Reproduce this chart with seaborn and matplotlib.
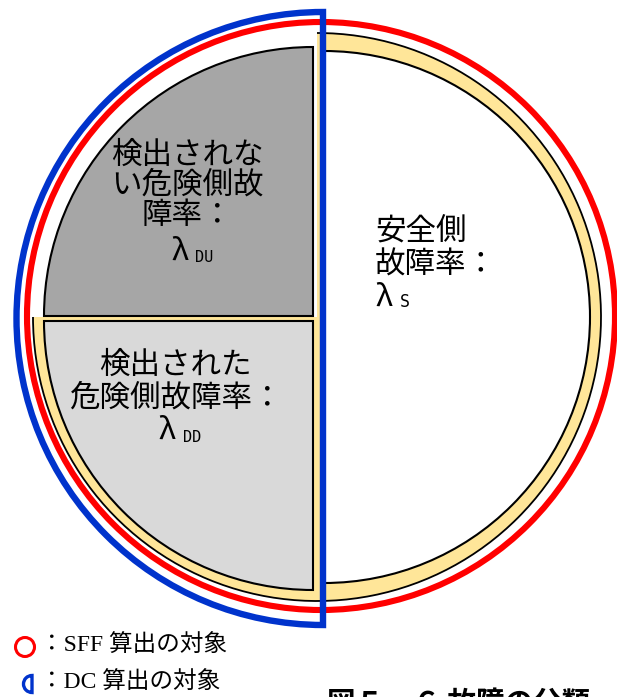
import numpy as np
import matplotlib
matplotlib.use("Agg")
import matplotlib.pyplot as plt
from matplotlib.patches import Wedge, Circle, Arc
import seaborn as sns

sns.set_style("white")
plt.rcParams['font.family'] = ['Noto Sans CJK JP', 'DejaVu Sans']
plt.rcParams['text.color'] = 'black'

# failure-rate breakdown (share of the whole circle)
sectors = ["safe", "du", "dd"]
shares = [0.50, 0.25, 0.25]
fills = ["white", "#a6a6a6", "#d9d9d9"]
# text of each sector: body lines + lambda subscript
sector_lines = [["安全側", "故障率："],
                ["検出されな", "い危険側故", "障率："],
                ["検出された", "危険側故障率："]]
subscripts = ["S", "DU", "DD"]
legend_texts = ["：SFF 算出の対象", "：DC 算出の対象"]
caption = "図５－６ 故障の分類"

H = 697
def py(y):
    return H - y

fig = plt.figure(figsize=(6.17, 6.97), dpi=100)
ax = fig.add_axes([0, 0, 1, 1])
ax.set_xlim(0, 617)
ax.set_ylim(0, H)
ax.axis('off')

# angles from shares, starting at the bottom, counter-clockwise
edges = np.concatenate([[0], np.cumsum(shares)]) * 360 - 90
# slightly exploded centres and radii of the sectors
centres = [(324, py(317)), (313, py(316)), (313, py(321))]
radii = [266, 269, 269]

# yellow band behind the safe half and the detected quarter
yc = (317, py(317))
ax.add_patch(Wedge(yc, 284, -180, 90, fc="#ffe699", ec="none", zorder=1))
ax.add_patch(Arc(yc, 568, 568, theta1=-180, theta2=90, color="black", lw=1.3, zorder=2))

for i, name in enumerate(sectors):
    ax.add_patch(Wedge(centres[i], radii[i], edges[i], edges[i + 1],
                       fc=fills[i], ec="black", lw=1.5, zorder=3))

# SFF ring and DC half ring
ax.add_patch(Circle((321, py(316)), 294, fill=False, ec="#ff0000", lw=4.4, zorder=4))
ax.add_patch(Wedge((323, py(318.5)), 306.5, 90, 270, fill=False, ec="#0033cc",
                   lw=4.6, joinstyle="miter", zorder=5))

fs = 22
# safe failure text
sx = 375
for t, yy in zip(sector_lines[0], [232, 265]):
    ax.text(sx, py(yy), t, ha="left", va="center", fontsize=fs, color="black", zorder=6)
ax.text(sx, py(297), "λ", ha="left", va="center", fontsize=fs, color="black", zorder=6)
ax.text(400, py(302), subscripts[0], ha="left", va="center", fontsize=12,
        family=["DejaVu Sans Mono"], color="black", zorder=6)

# undetected dangerous
for t, yy in zip(sector_lines[1], [155, 185, 215]):
    ax.text(187, py(yy), t, ha="center", va="center", fontsize=fs, color="black", zorder=6)
ax.text(180, py(251), "λ", ha="center", va="center", fontsize=fs, color="black", zorder=6)
ax.text(195, py(258), subscripts[1], ha="left", va="center", fontsize=11,
        family=["DejaVu Sans Mono"], color="black", zorder=6)

# detected dangerous
for t, yy in zip(sector_lines[2], [365, 398]):
    ax.text(175.5, py(yy), t, ha="center", va="center", fontsize=fs, color="black", zorder=6)
ax.text(167, py(430), "λ", ha="center", va="center", fontsize=fs, color="black", zorder=6)
ax.text(183, py(437), subscripts[2], ha="left", va="center", fontsize=11,
        family=["DejaVu Sans Mono"], color="black", zorder=6)

# legend
ax.add_patch(Circle((25, py(647)), 9.5, fill=False, ec="#ff0000", lw=2.2))
ax.add_patch(Wedge((32, py(684)), 8.5, 90, 270, fill=False, ec="#0033cc", lw=2.4))
for t, yy in zip(legend_texts, [646, 683]):
    ax.text(40, py(yy), t, ha="left", va="center", fontsize=17, color="black",
            family=["Liberation Serif", "Noto Sans CJK JP"])

# caption, cut by the bottom edge as in the source
ax.text(327, py(690), caption, ha="left", va="top", fontsize=20.5,
        fontweight="bold", color="black")

fig.savefig("out.png", dpi=100)
